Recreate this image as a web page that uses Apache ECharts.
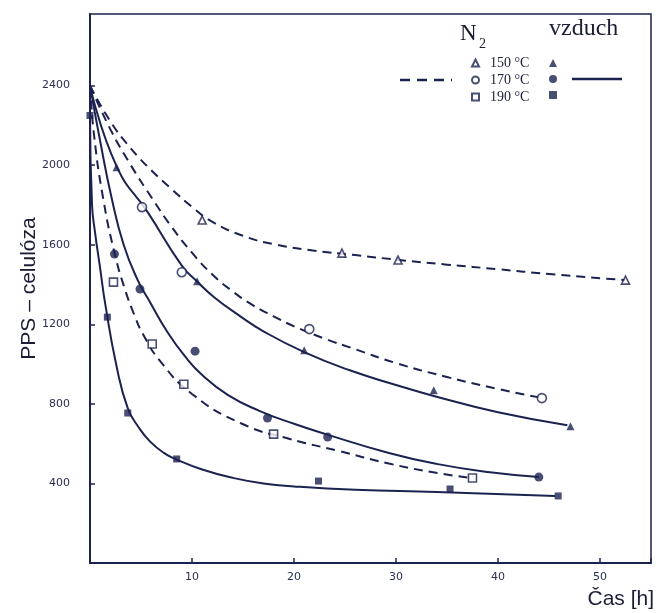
<!DOCTYPE html>
<html><head><meta charset="utf-8">
<script src="https://cdn.jsdelivr.net/npm/echarts@6/dist/echarts.min.js"></script>
<style>html,body{margin:0;padding:0;background:#fff}#c{width:657px;height:613px}</style>
</head><body><div id="c"></div>
<script>
// ---- tick labels ----
const xTicks = [10, 20, 30, 40, 50];
const yTicks = [400, 800, 1200, 1600, 2000, 2400];
const tempLabels = ['150 °C', '170 °C', '190 °C'];

// ---- fitted curves [h, value] ----
const n2_150_curve = [[0,2400],[2,2220],[4,2085],[6,1975],[8,1880],[10,1790],[12,1715],[15,1645],[18,1603],[22,1570],[26,1548],[30,1525],[35,1500],[40,1477],[45,1453],[52.5,1422]];
const n2_170_curve = [[0,2400],[2,2180],[4,2000],[6,1840],[8,1690],[10,1560],[12,1450],[14,1365],[16,1295],[18,1240],[20,1190],[23,1128],[26,1075],[30,1005],[35,935],[40,875],[44.3,830]];
const n2_190_curve = [[0,2400],[0.4,2150],[1.3,1830],[2.4,1560],[3.4,1380],[4.4,1240],[5.2,1150],[6.8,1020],[10,850],[14.9,700],[19.5,625],[24.4,563],[29.3,500],[34.1,452],[37.5,427]];
const air_150_curve = [[0,2400],[2.6,1995],[5.7,1760],[9,1495],[10.5,1415],[12.2,1335],[14.6,1245],[17,1165],[21,1060],[25.4,970],[30,895],[33.7,840],[40,758],[46.8,693]];
const air_170_curve = [[0,2400],[1,2120],[2.1,1840],[3.3,1600],[4.7,1420],[5.9,1310],[7.6,1160],[9.3,1040],[11,945],[13.5,845],[16.6,765],[20,700],[23.1,648],[29.3,553],[34.1,497],[39,457],[44,432]];
const air_190_curve = [[0,2250],[0.2,1800],[0.5,1660],[1,1480],[1.5,1300],[2.6,990],[3.7,779],[4.8,680],[5.9,610],[7.2,555],[8.5,520],[11,470],[14,428],[17,400],[20,385],[26,368],[34,357],[45.6,337]];

// ---- measured points ----
const n2_150_pts = [[11.0,1724],[24.7,1558],[30.2,1523],[52.5,1422]];
const n2_170_pts = [[5.1,1789],[9.0,1462],[21.5,1176],[44.3,829]];
const n2_190_pts = [[2.3,1412],[6.1,1101],[9.2,899],[18.0,648],[37.5,427]];
const air_150_pts = [[2.6,1990],[10.5,1417],[21.0,1070],[33.7,869],[47.1,688]];
const air_170_pts = [[2.4,1553],[4.9,1377],[10.3,1065],[17.4,729],[23.3,633],[44.0,432]];
const air_190_pts = [[0,2250],[1.7,1236],[3.7,754],[8.5,523],[22.4,412],[35.3,372],[45.9,337]];

const INK = '#1c2250';
const chart = echarts.init(document.getElementById('c'), null, {renderer: 'canvas'});

function curve(name, data, dashed) {
  return {
    name: name, type: 'line', data: data, showSymbol: false, symbol: 'none',
    smooth: 0.5, silent: true, z: 2,
    lineStyle: {color: INK, width: 2, type: dashed ? [9, 6] : 'solid'}
  };
}
function pts(name, data, symbol, size, open) {
  return {
    name: name, type: 'scatter', data: data, symbol: symbol, symbolSize: size, z: 5,
    itemStyle: open ? {color: '#fff', borderColor: INK, borderWidth: 1.6} : {color: INK, borderColor: INK, borderWidth: 0}
  };
}

const names = ['N2 ' + tempLabels[0], 'N2 ' + tempLabels[1], 'N2 ' + tempLabels[2],
               'vzduch ' + tempLabels[0], 'vzduch ' + tempLabels[1], 'vzduch ' + tempLabels[2]];

chart.setOption({
  animation: false,
  backgroundColor: '#fff',
  grid: {left: 90, right: 5, top: 14, bottom: 50, show: true, borderColor: INK, borderWidth: 1.5, backgroundColor: 'transparent'},
  xAxis: {
    type: 'value', min: 0, max: 55, interval: 10,
    name: 'Čas [h]', nameLocation: 'end', nameGap: 3, nameMoveOverlap: false,
    nameTextStyle: {fontFamily: 'Liberation Sans', fontSize: 21, color: '#1a1d35', align: 'right', verticalAlign: 'top', padding: [26, 0, 0, 0]},
    axisLine: {lineStyle: {color: INK, width: 2}},
    axisTick: {inside: true, length: 5, lineStyle: {color: INK, width: 1.5}},
    axisLabel: {margin: 9, fontFamily: 'DejaVu Sans', fontSize: 11, color: '#2a2f55',
      formatter: v => xTicks.includes(v) ? String(v) : ''},
    splitLine: {show: false}
  },
  yAxis: {
    type: 'value', min: 0, max: 2760, interval: 400,
    name: 'PPS – celulóza', nameLocation: 'middle', nameGap: 50, nameMoveOverlap: false,
    nameTextStyle: {fontFamily: 'Liberation Sans', fontSize: 21, color: '#1a1d35'},
    axisLine: {lineStyle: {color: INK, width: 2}},
    axisTick: {inside: true, length: 5, lineStyle: {color: INK, width: 1.5}},
    axisLabel: {margin: 20, fontFamily: 'DejaVu Sans', fontSize: 11, color: '#2a2f55',
      formatter: v => yTicks.includes(v) ? String(v) : '', showMaxLabel: false},
    splitLine: {show: false}
  },
  legend: [
    {
      data: [{name: names[0], icon: 'triangle'}, {name: names[1], icon: 'circle'}, {name: names[2], icon: 'rect'}],
      orient: 'vertical', left: 466, top: 50, itemWidth: 7, itemHeight: 7, itemGap: 1,
      selectedMode: false,
      formatter: n => n.split(' ').slice(1).join(' '),
      textStyle: {fontFamily: 'Liberation Serif', fontSize: 14, lineHeight: 16, color: '#1a1d35', padding: [0, 0, 0, 6]}
    },
    {
      data: [{name: names[3], icon: 'triangle'}, {name: names[4], icon: 'circle'}, {name: names[5], icon: 'rect'}],
      orient: 'vertical', left: 544, top: 54, itemWidth: 8, itemHeight: 8, itemGap: 8,
      selectedMode: false,
      formatter: () => '',
      textStyle: {fontSize: 14, lineHeight: 16}
    }
  ],
  graphic: [
    {type: 'text', left: 460, top: 22, style: {text: 'N', font: '23px "Liberation Serif"', fill: '#1a1d35'}},
    {type: 'text', left: 479, top: 37, style: {text: '2', font: '14px "Liberation Serif"', fill: '#1a1d35'}},
    {type: 'text', left: 549, top: 17, style: {text: 'vzduch', font: '24px "Liberation Serif"', fill: '#1a1d35'}},
    {type: 'line', shape: {x1: 400, y1: 80, x2: 452, y2: 80}, style: {stroke: INK, lineWidth: 2.5, lineDash: [10, 7]}},
    {type: 'line', shape: {x1: 572, y1: 79, x2: 622, y2: 79}, style: {stroke: INK, lineWidth: 2.5}}
  ],
  series: [
    curve('c1', n2_150_curve, true),
    curve('c2', n2_170_curve, true),
    curve('c3', n2_190_curve, true),
    curve('c4', air_150_curve, false),
    curve('c5', air_170_curve, false),
    curve('c6', air_190_curve, false),
    pts(names[0], n2_150_pts, 'triangle', 8, true),
    pts(names[1], n2_170_pts, 'circle', 9, true),
    pts(names[2], n2_190_pts, 'rect', 8, true),
    pts(names[3], air_150_pts, 'triangle', 8, false),
    pts(names[4], air_170_pts, 'circle', 9, false),
    pts(names[5], air_190_pts, 'rect', 7, false)
  ]
});
</script>
</body></html>
